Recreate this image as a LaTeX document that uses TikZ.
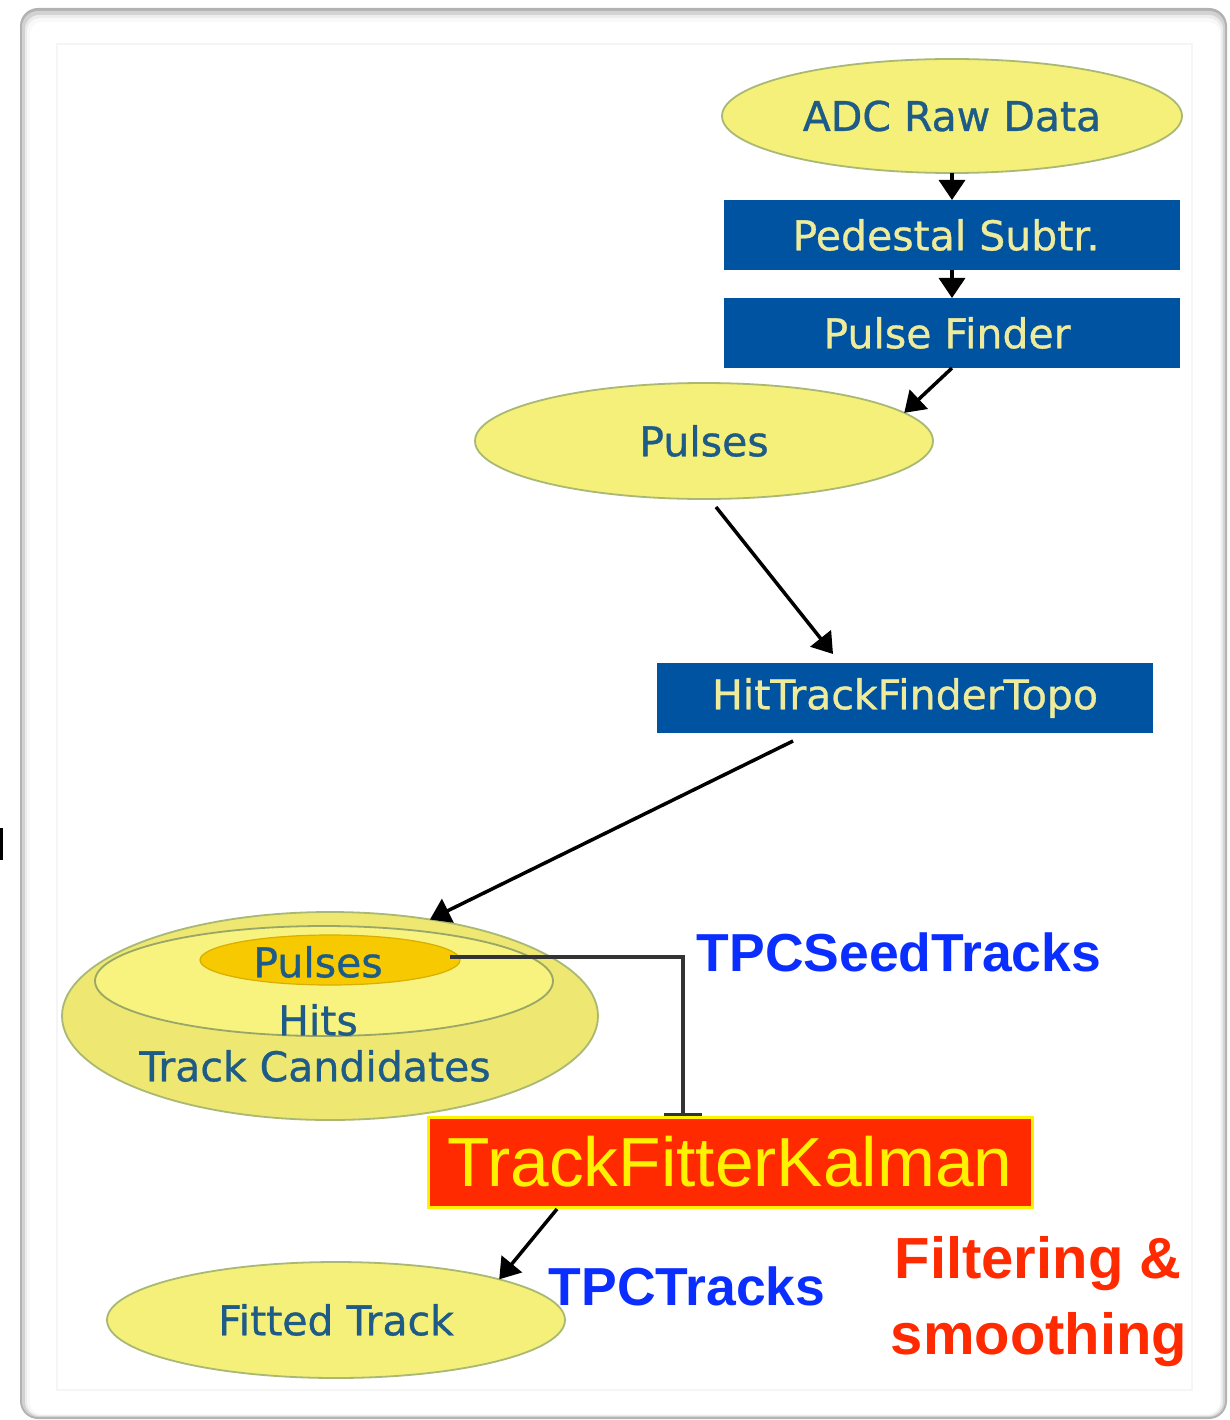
\documentclass[tikz,border=0pt]{standalone}
\usepackage{fontspec}
\setmainfont{DejaVu Sans}
\newfontfamily\gvfont{DejaVu Sans}[FakeBold=0.8]
\newfontfamily\libsans{Liberation Sans}
\usetikzlibrary{arrows.meta,shapes.geometric}
\definecolor{ellfill}{HTML}{F5F07A}
\definecolor{ellouter}{HTML}{EEE772}
\definecolor{ellmid}{HTML}{F7F37E}
\definecolor{ellline}{HTML}{A9B872}
\definecolor{tealtext}{HTML}{1E5B86}
\definecolor{boxblue}{HTML}{0053A0}
\definecolor{boxtext}{HTML}{EEEC9C}
\definecolor{goldfill}{HTML}{F6C900}
\definecolor{goldline}{HTML}{D8AE00}
\definecolor{kred}{HTML}{FF2A00}
\definecolor{kyellow}{HTML}{FFF200}
\definecolor{lblue}{HTML}{0A2EFF}
\definecolor{edgegray}{HTML}{333333}
\tikzset{
  ellnode/.style={ellipse, draw=ellline, line width=1.8pt, fill=ellfill, inner sep=0pt, outer sep=0pt,
    text=tealtext, font=\gvfont\fontsize{41}{49}\selectfont},
  bluebox/.style={rectangle, fill=boxblue, inner sep=0pt, outer sep=0pt, text=boxtext,
    font=\gvfont\fontsize{41}{49}\selectfont},
  gvtext/.style={text=tealtext, font=\gvfont\fontsize{41}{49}\selectfont, inner sep=0pt},
  flow/.style={line width=3.5pt, black, -{Triangle[width=26pt,length=20pt]}},
  annoblue/.style={text=lblue, font=\libsans\bfseries\fontsize{53.5}{60}\selectfont, inner sep=0pt, anchor=base},
  annored/.style={text=kred, font=\libsans\bfseries\fontsize{58}{66}\selectfont, inner sep=0pt, anchor=base},
}
\begin{document}
\begin{tikzpicture}[x=1pt,y=-1pt]
\useasboundingbox (0,0) rectangle (1230,1420);
% frame with shadow
\fill[gray!60, rounded corners=18pt] (20,8) rectangle (1227,1419);
\fill[gray!35, rounded corners=16pt] (22,11) rectangle (1225,1417);
\fill[gray!15, rounded corners=14pt] (25,15) rectangle (1223,1416);
\fill[gray!5, rounded corners=13pt] (27,18) rectangle (1221,1415);
\fill[white, rounded corners=12pt] (30,22) rectangle (1220,1414);
\draw[gray!8, line width=1.5pt] (57,44) rectangle (1192,1390);
\fill[black] (0,828) rectangle (2.5,860);

% nodes
\node[ellnode, minimum width=460pt, minimum height=114pt] (adc) at (952,116) {ADC Raw Data};
\node[bluebox, minimum width=456pt, minimum height=70pt] (ped) at (952,235) {\hspace*{-12pt}Pedestal Subtr.};
\node[bluebox, minimum width=456pt, minimum height=70pt] (pf) at (952,333) {\hspace*{-10pt}Pulse Finder};
\node[ellnode, minimum width=458pt, minimum height=116pt] (pulses) at (704,441) {Pulses};
\node[bluebox, minimum width=496pt, minimum height=70pt] (htf) at (905,698) {HitTrackFinderTopo};

\node[ellipse, draw=ellline, line width=1.8pt, fill=ellouter, inner sep=0pt, outer sep=0pt,
  minimum width=536pt, minimum height=208pt] (outer) at (330,1016) {};
\node[ellipse, draw=ellline!90!black, line width=1.8pt, fill=ellmid, inner sep=0pt, outer sep=0pt,
  minimum width=458pt, minimum height=110pt] (mid) at (324,981) {};
\node[ellipse, draw=goldline, line width=1.2pt, fill=goldfill, inner sep=0pt, outer sep=0pt,
  minimum width=260pt, minimum height=50pt] (inpul) at (330,960) {};
\node[gvtext] (tpul) at (318,962) {Pulses};
\node[gvtext] (thits) at (318,1020) {Hits};
\node[gvtext] (tcand) at (315,1066) {Track Candidates};

\node[ellnode, minimum width=458pt, minimum height=116pt] (fitted) at (336,1320) {Fitted Track};

% edges
\draw[flow] (adc.south) -- (ped.north);
\draw[flow] (ped.south) -- (pf.north);
\draw[flow] (pf.south) -- (pulses.8.6);
\draw[flow] ([xshift=12pt,yshift=-8pt]pulses.south) -- ([xshift=-72pt,yshift=9pt]htf.north);
\draw[flow] ([xshift=-112pt,yshift=-8pt]htf.south) -- (outer.44);
\coordinate (tfkin) at (683,1116);
\draw[edgegray, line width=3.5pt, -{Bar[width=38pt,line width=3.5pt]}] ([xshift=-10pt,yshift=3pt]inpul.east) -| (tfkin);

\node[rectangle, fill=kred, draw=kyellow, line width=3pt, inner sep=0pt, outer sep=0pt,
  minimum width=604pt, minimum height=90pt, text=kyellow,
  font=\libsans\fontsize{69.5}{80}\selectfont] (tfk) at (730,1162) {TrackFitterKalman};

\draw[flow] ([xshift=-173pt,yshift=-2pt]tfk.south) -- (fitted.14.3);

% annotations
\node[annoblue] (seed) at (899,971) {TPCSeedTracks};
\node[annoblue] (tpct) at (687,1305) {TPCTracks};
\node[annored] (filt) at (1038,1278) {Filtering \&};
\node[annored] (smoo) at (1039,1354) {smoothing};
\end{tikzpicture}
\end{document}
